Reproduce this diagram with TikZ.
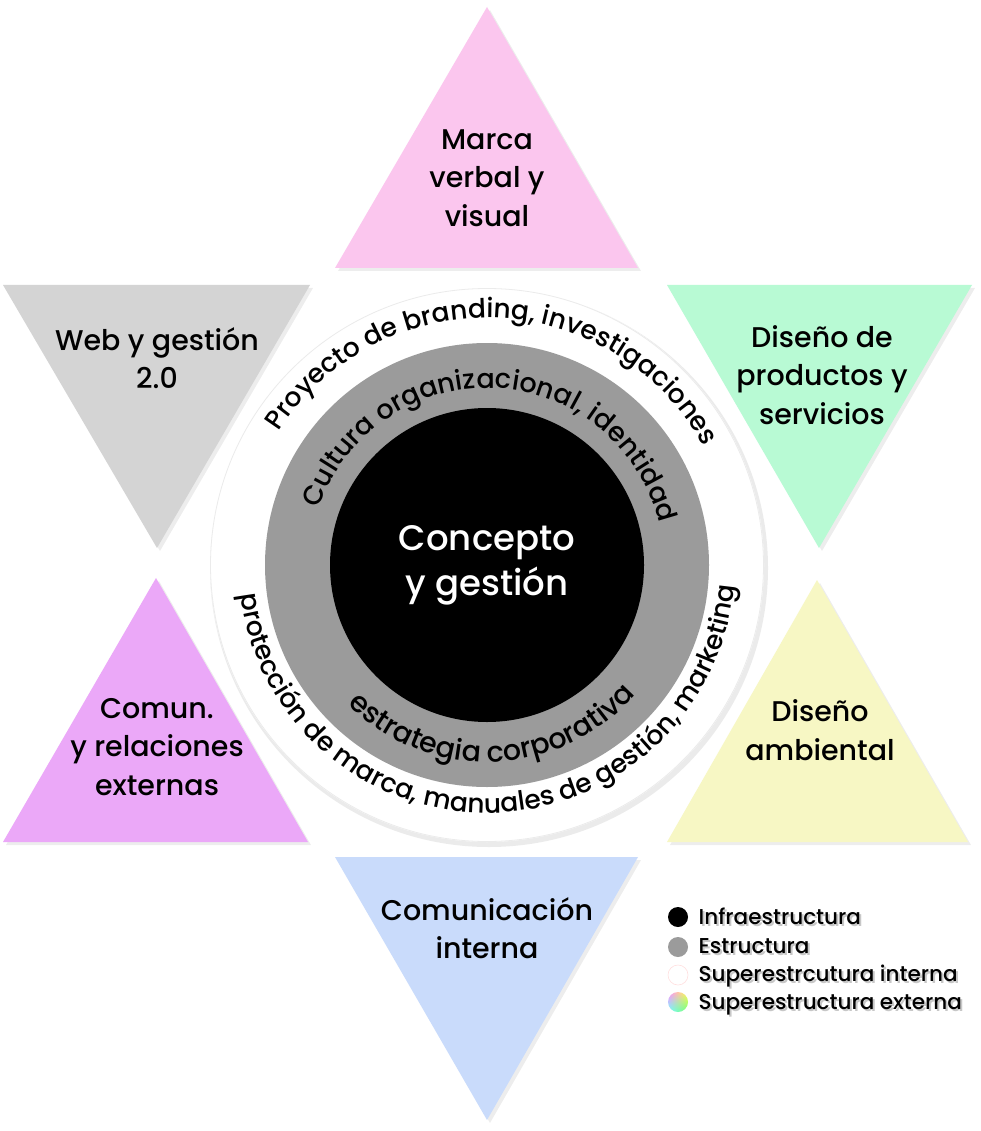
\documentclass[tikz,border=0pt]{standalone}
\usepackage{fontspec}
\IfFontExistsTF{Poppins Medium}{\setmainfont{Poppins Medium}}{\setmainfont{Poppins}[FakeBold=0.3]}
\usetikzlibrary{decorations.text,calc,shadings}
\definecolor{pinkT}{RGB}{251,198,238}
\definecolor{grayT}{RGB}{212,212,212}
\definecolor{greenT}{RGB}{184,250,212}
\definecolor{purpleT}{RGB}{235,168,248}
\definecolor{yellowT}{RGB}{247,247,196}
\definecolor{blueT}{RGB}{201,219,251}
\definecolor{ringgray}{RGB}{155,155,155}
\begin{document}
\begin{tikzpicture}[x=1pt,y=1pt,
  shadowtri/.style={fill=black, opacity=0.07},
  lbl/.style={align=center, font=\fontsize{28.5}{38.5}\selectfont, text=black, inner sep=0pt},
  legdot/.style={circle, minimum size=20pt, inner sep=0pt},
  legtxt/.style={anchor=base west, inner sep=0pt, font=\fontsize{21.5}{24}\selectfont},
  ringtxt/.style={decorate, decoration={text along path, text align=center, text={#1}}}
]
\useasboundingbox (0,0) rectangle (980,-1131);
\fill[white] (0,0) rectangle (980,-1131);
\coordinate (C) at (487,-565);

% triangle shadows
\fill[shadowtri, shift={(3,-3)}] (335,-268) -- (487,-7) -- (638,-268) -- cycle;
\fill[shadowtri, shift={(3,-3)}] (3,-285) -- (310,-285) -- (157,-548) -- cycle;
\fill[shadowtri, shift={(3,-3)}] (667,-285) -- (972,-285) -- (819,-548) -- cycle;
\fill[shadowtri, shift={(3,-3)}] (3,-842) -- (308,-842) -- (156,-578) -- cycle;
\fill[shadowtri, shift={(3,-3)}] (667,-842) -- (968,-842) -- (817,-580) -- cycle;
\fill[shadowtri, shift={(3,-3)}] (335,-857) -- (638,-857) -- (487,-1120) -- cycle;

% triangles
\fill[pinkT]   (335,-268) -- (487,-7) -- (638,-268) -- cycle;
\fill[grayT]   (3,-285) -- (310,-285) -- (157,-548) -- cycle;
\fill[greenT]  (667,-285) -- (972,-285) -- (819,-548) -- cycle;
\fill[purpleT] (3,-842) -- (308,-842) -- (156,-578) -- cycle;
\fill[yellowT] (667,-842) -- (968,-842) -- (817,-580) -- cycle;
\fill[blueT]   (335,-857) -- (638,-857) -- (487,-1120) -- cycle;

% circles
\fill[black, opacity=0.08] ($(C)+(2,-3)$) circle[radius=279];
\fill[white] (C) circle[radius=277];
\draw[black!8, line width=0.8pt] (C) circle[radius=276.5];
\fill[ringgray] (C) circle[radius=222];
\fill[black] (C) circle[radius=157];

% ring texts
\path[ringtxt={|\fontsize{26.5}{30}\selectfont|Proyecto de branding, investigaciones}]
  ($(C)+(176:247)$) arc[start angle=176, end angle=0, radius=247];
\path[ringtxt={|\fontsize{27}{30}\selectfont|Cultura organizacional, identidad}]
  ($(C)+(175:177)$) arc[start angle=175, end angle=0, radius=177];
\path[ringtxt={|\fontsize{28.5}{30}\selectfont|estrategia corporativa}]
  ($(C)+(-178:197)$) arc[start angle=-178, end angle=2, radius=197];
\path[ringtxt={|\fontsize{26.5}{30}\selectfont|protección de marca, manuales de gestión, marketing}]
  ($(C)+(-179:248)$) arc[start angle=-179, end angle=1, radius=248];

% centre text
\node[lbl, text=white, font=\fontsize{35.5}{45}\selectfont] (core) at (487,-565) {Concepto\\y gestión};

% triangle labels
\node[lbl] (marca) at (487,-178) {Marca\\verbal y\\visual};
\node[lbl] (web) at (157,-358) {Web y gestión\\2.0};
\node[lbl] (disprod) at (822,-375) {Diseño de\\productos y\\servicios};
\node[lbl] (comun) at (157,-747) {Comun.\\y relaciones\\externas};
\node[lbl] (disamb) at (820,-730) {Diseño\\ambiental};
\node[lbl] (cominterna) at (487,-928) {Comunicación\\interna};

% legend
\node[legdot, fill=black] (l1) at (678,-917) {};
\node[legdot, fill=ringgray] (l2) at (678,-947) {};
\node[legdot, fill=white, draw=pink!50, line width=0.6pt] (l3) at (678,-975) {};
\node[legdot, shade, upper left=magenta!45, upper right=yellow!70, lower left=cyan!55, lower right=green!55] (l4) at (678,-1002) {};
\foreach \n/\y/\t in {1/924/Infraestructura, 2/953/Estructura, 3/981/Superestrcutura interna, 4/1009/Superestructura externa}{
  \node[legtxt, text=black!22] at (700.5,-\y-2) {\t};
  \node[legtxt] (t\n) at (698.5,-\y) {\t};
}
\end{tikzpicture}
\end{document}
